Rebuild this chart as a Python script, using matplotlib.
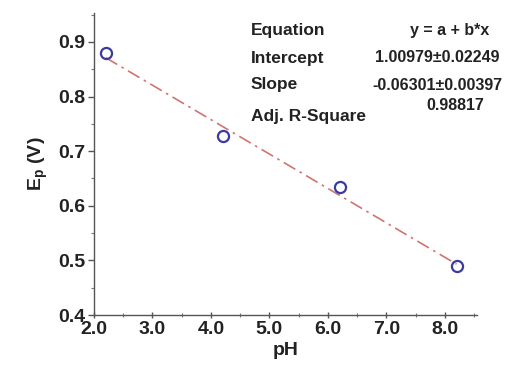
import matplotlib
matplotlib.use("Agg")
import matplotlib.pyplot as plt
import numpy as np
from matplotlib.ticker import MultipleLocator

pH = [2.2, 4.2, 6.2, 8.2]
Ep = [0.880, 0.727, 0.635, 0.489]
intercept = 1.00979
slope = -0.06301
stat_labels = ["Equation", "Intercept", "Slope", "Adj. R-Square"]
stat_values = ["y = a + b*x", "1.00979\u00b10.02249", "-0.06301\u00b10.00397", "0.98817"]

FONT = "Liberation Sans"
plt.rcParams['mathtext.fontset'] = 'custom'
plt.rcParams['mathtext.bf'] = 'Liberation Sans:bold'
plt.rcParams['mathtext.rm'] = 'Liberation Sans'

W, H = 517, 376
fig = plt.figure(figsize=(W/100, H/100), dpi=100)
ax = fig.add_axes([94/W, 1-315/H, (477-94)/W, (315-13)/H])

xf = np.array([pH[0], pH[-1]])
ax.plot(xf, intercept + slope*xf, color="#c85a5a", lw=1.2, ls=(0, (8, 3, 1.5, 3)), alpha=0.85)
ax.plot(pH, Ep, 'o', mfc='none', mec='#3b3b9e', mew=1.6, ms=8)

ax.set_xlim(2.0, 8.55)
ax.set_ylim(0.4, 0.953)
ax.xaxis.set_minor_locator(MultipleLocator(0.5))
ax.yaxis.set_minor_locator(MultipleLocator(0.05))
ax.set_xticks([2, 3, 4, 5, 6, 7, 8])
ax.set_xticklabels(["2.0", "3.0", "4.0", "5.0", "6.0", "7.0", "8.0"])
ax.set_yticks([0.4, 0.5, 0.6, 0.7, 0.8, 0.9])
ax.set_yticklabels(["0.4", "0.5", "0.6", "0.7", "0.8", "0.9"])
for s in ["top", "right"]:
    ax.spines[s].set_visible(False)
for s in ["left", "bottom"]:
    ax.spines[s].set_color("#555555")
    ax.spines[s].set_linewidth(1.0)
ax.tick_params(axis='both', which='major', length=4, width=1, color="#555555",
               labelsize=14, pad=2)
ax.tick_params(axis='both', which='minor', length=2.5, width=0.8, color="#777777")
ax.tick_params(axis='x', which='both', direction='inout')
ax.tick_params(axis='y', which='both', direction='out')
for lab in ax.get_xticklabels() + ax.get_yticklabels():
    lab.set_fontweight('bold')
    lab.set_fontfamily(FONT)
    lab.set_color('#222222')
ax.set_xlabel("pH", fontsize=14, fontweight='bold', labelpad=3, color='#222222', fontfamily=FONT)
ax.set_ylabel("E$_\\mathbf{p}$ (V)", fontsize=14, fontweight='bold', labelpad=6,
              color='#222222', fontfamily=FONT)

ys_l = [30, 58, 85, 117]
ys_v = [30, 58, 85, 106]
xs_v = [450, 437, 437, 455]
for lab, val, yl, yv, xv in zip(stat_labels, stat_values, ys_l, ys_v, xs_v):
    fig.text(251/W, 1-yl/H, lab, fontsize=12.5, fontweight='bold', va='center', ha='left',
             color='#222222', fontfamily=FONT)
    fig.text(xv/W, 1-yv/H, val, fontsize=11.5, fontweight='bold', va='center', ha='center',
             color='#222222', fontfamily=FONT)

fig.savefig("out.png", dpi=100)
